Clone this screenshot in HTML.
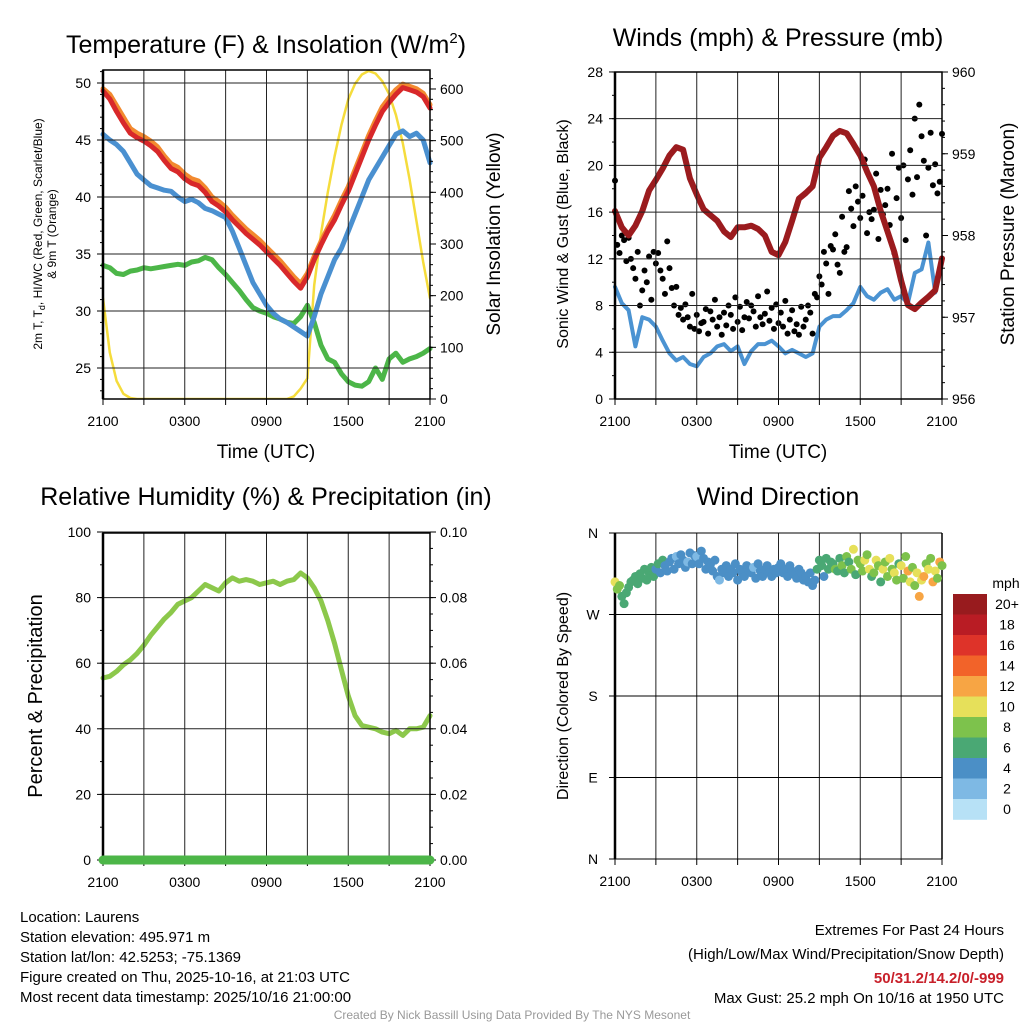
<!DOCTYPE html>
<html><head><meta charset="utf-8"><style>
body{margin:0;background:#fff}
svg{display:block;font-family:"Liberation Sans",Arial,sans-serif}
</style></head><body>
<svg id="chart" xmlns="http://www.w3.org/2000/svg" width="1024" height="1024" viewBox="0 0 1024 1024">
<rect x="0" y="0" width="1024" height="1024" fill="#fff"/>
<text x="266" y="53" font-size="25" text-anchor="middle">Temperature (F) &amp; Insolation (W/m<tspan dy="-10" font-size="15">2</tspan><tspan dy="10">)</tspan></text>
<text x="778" y="46" font-size="25" text-anchor="middle">Winds (mph) &amp; Pressure (mb)</text>
<text x="266" y="505" font-size="25" text-anchor="middle">Relative Humidity (%) &amp; Precipitation (in)</text>
<text x="778" y="505" font-size="25" text-anchor="middle">Wind Direction</text>

<text transform="translate(42,234) rotate(-90)" font-size="12" text-anchor="middle">2m T, T<tspan dy="3" font-size="9">d</tspan><tspan dy="-3">, HI/WC (Red, Green, Scarlet/Blue)</tspan></text>
<text transform="translate(56,234) rotate(-90)" font-size="12" text-anchor="middle">&amp; 9m T (Orange)</text>
<text transform="translate(500,234) rotate(-90)" font-size="19" text-anchor="middle">Solar Insolation (Yellow)</text>
<text x="266" y="458" font-size="19" text-anchor="middle">Time (UTC)</text>
<text transform="translate(568,234) rotate(-90)" font-size="16" text-anchor="middle">Sonic Wind &amp; Gust (Blue, Black)</text>
<text transform="translate(1014,234) rotate(-90)" font-size="19" text-anchor="middle">Station Pressure (Maroon)</text>
<text x="778" y="458" font-size="19" text-anchor="middle">Time (UTC)</text>
<text transform="translate(42,696) rotate(-90)" font-size="20" text-anchor="middle">Percent &amp; Precipitation</text>
<text transform="translate(568,696) rotate(-90)" font-size="16" text-anchor="middle">Direction (Colored By Speed)</text>

<g font-size="15">
<text x="20" y="922">Location: Laurens</text>
<text x="20" y="942">Station elevation: 495.971 m</text>
<text x="20" y="962">Station lat/lon: 42.5253; -75.1369</text>
<text x="20" y="982">Figure created on Thu, 2025-10-16, at 21:03 UTC</text>
<text x="20" y="1002">Most recent data timestamp: 2025/10/16 21:00:00</text>
</g>
<g font-size="15" text-anchor="end">
<text x="1004" y="935">Extremes For Past 24 Hours</text>
<text x="1004" y="959">(High/Low/Max Wind/Precipitation/Snow Depth)</text>
<text x="1004" y="983" fill="#c8202a" font-weight="bold">50/31.2/14.2/0/-999</text>
<text x="1004" y="1003">Max Gust: 25.2 mph On 10/16 at 1950 UTC</text>
</g>
<text x="512" y="1019" font-size="12" fill="#999" text-anchor="middle">Created By Nick Bassill Using Data Provided By The NYS Mesonet</text>
<g id="layer"></g>
</svg>
<script>
const tempRed=[49.3,48.6,47.5,46.5,45.6,45.2,44.9,44.5,44.0,43.2,42.5,42.2,41.6,41.2,41.0,40.4,39.6,39.2,38.7,38.0,37.4,36.8,36.3,35.8,35.2,34.6,34.0,33.3,32.6,32.0,33.0,34.5,35.8,37.0,38.0,39.3,40.5,42.0,43.5,45.0,46.3,47.5,48.3,49.0,49.6,49.4,49.2,48.8,47.8];
const tempOrange=[49.5,49.0,48.0,47.0,46.0,45.6,45.3,44.9,44.4,43.6,42.9,42.6,42.0,41.6,41.4,40.8,40.0,39.6,39.1,38.4,37.8,37.2,36.7,36.2,35.6,35.0,34.4,33.7,33.0,32.4,33.3,34.8,36.1,37.3,38.4,39.7,40.9,42.4,43.9,45.4,46.7,47.9,48.7,49.4,49.9,49.7,49.5,49.1,48.1];
const tempBlue=[45.5,45.0,44.6,44.0,43.0,42.0,41.5,41.0,40.8,40.6,40.5,40.0,39.6,39.8,39.5,39.0,38.8,38.5,38.2,37.0,35.5,34.0,32.5,31.5,30.5,29.8,29.3,29.0,28.6,28.2,27.8,29.5,31.5,33.0,34.5,35.5,37.0,38.5,40.0,41.5,42.5,43.5,44.5,45.5,45.8,45.3,45.6,45.0,43.0];
const tempGreen=[34.0,33.8,33.3,33.2,33.5,33.6,33.8,33.7,33.8,33.9,34.0,34.1,34.0,34.3,34.4,34.7,34.5,33.8,33.2,32.5,31.8,31.0,30.3,30.0,29.8,29.5,29.3,29.0,28.9,29.5,30.5,29.0,27.0,25.8,25.5,24.5,23.8,23.5,23.4,23.8,25.0,24.0,25.8,26.3,25.5,25.8,26.0,26.3,26.7];
const insolation=[195,90,35,10,2,0,0,0,0,0,0,0,0,0,0,0,0,0,0,0,0,0,0,0,0,0,0,0,5,20,40,220,320,400,470,530,580,610,628,635,630,615,590,550,495,425,345,265,195];
const pressure=[958.30,958.10,958.0,958.12,958.3,958.55,958.68,958.82,958.98,959.08,959.05,958.7,958.5,958.32,958.25,958.18,958.05,957.98,958.1,958.1,958.12,958.08,958.0,957.8,957.76,957.92,958.18,958.45,958.52,958.6,958.95,959.08,959.22,959.28,959.25,959.12,958.98,958.78,958.6,958.3,958.05,957.8,957.45,957.15,957.1,957.18,957.25,957.33,957.72];
const sonicWind=[9.6,8.2,7.6,4.5,7.0,6.8,6.2,5.0,3.9,3.3,3.6,3.0,2.8,3.6,3.9,4.5,4.7,4.1,4.5,3.0,4.1,4.7,4.7,5.0,4.5,3.9,4.2,3.9,3.6,3.9,6.2,6.8,7.1,7.1,7.6,8.2,9.6,8.8,8.5,9.1,9.4,8.5,8.8,8.2,10.8,11.1,13.4,9.1,11.9];
const gusts=[18.7,13.2,12.5,14.0,13.6,11.8, 13.8,12.0,11.2,10.3,12.6,8.0, 9.3,11.0,10.0,12.2,8.5,12.6, 11.6,12.5,11.0,10.3,9.0,13.5, 11.2,9.5,8.0,9.6,7.2,7.8, 6.8,8.1,7.0,6.2,9.0,6.0, 7.2,5.8,6.5,6.6,7.7,5.6, 7.5,6.8,8.5,6.2,7.0,5.5, 7.4,6.3,8.0,7.2,6.0,8.7, 6.6,7.9,5.9,7.0,8.3,6.9, 8.0,7.5,6.2,8.8,7.0,6.4, 7.3,9.2,6.7,7.8,6.0,8.1, 6.5,7.4,6.2,8.4,5.6,6.8, 7.6,5.8,6.4,5.5,7.9,6.2, 6.8,8.0,7.4,5.6,9.0,8.7, 10.5,9.8,12.6,11.6,9.0,13.1, 12.8,14.1,11.5,10.8,15.6,12.6, 13.0,17.8,16.3,14.8,18.2,16.9, 15.5,17.4,20.5,14.2,16.0,15.4, 16.2,19.3,13.7,17.9,15.8,16.6, 18.0,14.9,21.0,12.5,17.2,19.8, 15.5,20.0,13.6,18.8,21.3,17.5, 24.0,19.0,25.2,22.5,20.4,14.0, 19.8,22.8,18.3,20.1,17.6,18.6, 22.7];
const relHumidity=[55.5,56,57.5,59.5,61,63,65.5,68.5,71,73.5,75.5,78,79,80,82,84,83,82,84.5,86,85,85.5,85,84,84.5,85,84,85,85.5,87.5,86,83,79,73,66,58,50,44,41,40.5,40,39,38.5,39.5,38,40,40,40.5,44];
const precip=[0,0,0,0,0,0,0,0,0,0,0,0,0,0,0,0,0,0,0,0,0,0,0,0,0,0,0,0,0,0,0,0,0,0,0,0,0,0,0,0,0,0,0,0,0,0,0,0,0];
const windDir=[306,298,302,290,282,294, 300,306,308,312,304,315, 310,320,308,316,322,312, 320,326,316,330,324,318, 328,332,320,334,326,336, 330,322,328,338,326,335, 334,326,340,332,320,328, 325,318,330,312,308,320, 316,324,312,320,316,326, 308,320,316,312,324,318, 316,322,310,326,318,312, 320,324,316,312,320,316, 322,326,316,320,312,324, 318,314,310,320,316,308, 312,306,316,302,308,320, 330,324,312,332,320,328, 326,320,318,332,324,316, 334,328,320,342,314,330, 326,318,330,336,320,312, 316,330,324,306,320,328, 312,332,320,316,308,326, 324,310,334,318,306,322, 302,316,290,308,312,326, 320,332,306,318,310,328, 324];
const windSpd=[10,9,8,7,7,6, 7,6,7,6,7,6, 7,6,7,6,7,6, 5,6,5,6,5,4, 5,4,5,3,5,4, 4,5,3,4,5,4, 3,4,5,4,4,5, 4,5,4,4,3,4, 4,5,4,4,4,5, 4,4,5,4,4,4, 4,3,4,5,4,4, 4,4,5,4,4,4, 4,5,4,4,4,4, 4,4,5,4,4,4, 4,4,5,4,5,6, 7,6,5,7,6,7, 7,8,7,6,8,7, 8,7,8,10,7,8, 9,8,10,8,11,7, 8,10,9,7,10,8, 9,11,8,10,9,7, 10,8,9,12,10,9, 8,11,13,10,12,8, 11,9,12,10,8,13, 9];
const speedBins=[0,2,4,6,8,10,12,14,16,18,20];
const speedColors=["#b7e1f6","#7eb9e4","#4b8fc6","#4aa874","#7dc24c","#e6e05a","#f7a544","#f26329","#de3329","#b91c24","#981b1e"];
const speedLabels=["0","2","4","6","8","10","12","14","16","18","20+"];
const timeLabels=["2100","0300","0900","1500","2100"];
const tempTicks=[25,30,35,40,45,50];
const insolTicks=[0,100,200,300,400,500,600];
const windTicks=[0,4,8,12,16,20,24,28];
const pressTicks=[956,957,958,959,960];
const rhTicks=[0,20,40,60,80,100];
const precipTicks=["0.00","0.02","0.04","0.06","0.08","0.10"];
const dirLabels=["N","E","S","W","N"];

const NS="http://www.w3.org/2000/svg";
const layer=document.getElementById('layer');
function add(parent,tag,attrs){const el=document.createElementNS(NS,tag);for(const k in attrs)el.setAttribute(k,attrs[k]);parent.appendChild(el);return el;}

const P1={L:103,R:430,T:70,B:399};
const P2={L:615,R:942,T:72,B:399};
const P3={L:103,R:430,T:533,B:860};
const P4={L:615,R:942,T:533,B:859};
const xs=(p)=>(h)=>p.L+h*(p.R-p.L)/24;
const x1=xs(P1),x2=xs(P2),x3=xs(P3),x4=xs(P4);
const yT=v=>368-(v-25)*11.4;
const yS=w=>399-w*0.5167;
const yW=v=>399-v*11.68;
const yP=p=>399-(p-956)*81.75;
const yRH=v=>860-v*3.28;
const yPr=p=>860-p*3280;
const yD=d=>859-d*326/360;

function frame(p,name){
  const g=add(layer,'g',{});
  
  
  for(let h=3;h<24;h+=3){
    const l=add(g,'line',{x1:xs(p)(h),x2:xs(p)(h),y1:p.T,y2:p.B,stroke:'#222','stroke-width':1});
    
    
  }
  for(let h=0;h<=24;h+=3){
    const t=add(g,'line',{x1:xs(p)(h),x2:xs(p)(h),y1:p.B,y2:p.B+6,stroke:'#000','stroke-width':1});
    
    
  }
  for(let i=0;i<timeLabels.length;i++){
    const t=add(g,'text',{x:xs(p)(i*6),y:p.B+27,'font-size':14,'text-anchor':'middle'});
    t.textContent=timeLabels[i];
    
    
  }
  return g;
}
function yAxis(g,p,vals,fy,side,labels,minorStep,lo,hi,grid){
  const x=side==='L'?p.L:p.R, d=side==='L'?-6:6;
  for(let v=lo;v<=hi+1e-9;v+=minorStep){
    const m=add(g,'line',{x1:x,x2:x+d/2,y1:fy(v),y2:fy(v),stroke:'#000','stroke-width':1});
    
    
  }
  vals.forEach((v,i)=>{
    const y=fy(v);
    if(grid){
      const gl=add(g,'line',{x1:p.L,x2:p.R,y1:y,y2:y,stroke:'#222','stroke-width':1});
      
      
    }
    const t=add(g,'line',{x1:x,x2:x+d,y1:y,y2:y,stroke:'#000','stroke-width':1});
    
    
    const tx=add(g,'text',{x:side==='L'?x-12:x+10,y:y+5,'font-size':14,'text-anchor':side==='L'?'end':'start'});
    tx.textContent=labels?labels[i]:String(v);
    
    
  });
}
function box(g,p){
  const r=add(g,'rect',{x:p.L,y:p.T,width:p.R-p.L,height:p.B-p.T,fill:'none',stroke:'#000','stroke-width':1.5});
  
  
  const lft=add(g,'line',{x1:p.L,x2:p.L,y1:p.T,y2:p.B,stroke:'#000','stroke-width':2.5});
  
  
}
function line(arr,fx,fy,step,color,w,name){
  let d='';
  arr.forEach((v,i)=>{d+=(i?'L':'M')+fx(i*step).toFixed(1)+','+fy(v).toFixed(1);});
  const p=add(layer,'path',{d:d,fill:'none',stroke:color,'stroke-width':w,'stroke-linejoin':'round','stroke-linecap':'round'});
  
  
  return p;
}
function clip(id,p){
  const c=add(layer,'clipPath',{id:id});
  add(c,'rect',{x:p.L,y:p.T,width:p.R-p.L,height:p.B-p.T});
}

// Panel 1
let g=frame(P1,'temperature');
yAxis(g,P1,tempTicks,yT,'L',null,1,23,51,true);
yAxis(g,P1,insolTicks,yS,'R',null,20,0,620,false);
clip('c1',P1);
let s;
s=line(insolation,x1,yS,0.5,'#f5dc3c',2.5,'insolation-line');s.setAttribute('clip-path','url(#c1)');
line(tempGreen,x1,yT,0.5,'#4cb648',5,'dewpoint-line');
line(tempBlue,x1,yT,0.5,'#4a90d0',5,'heat-index-windchill-line');
line(tempOrange,x1,yT,0.5,'#f28a2f',5,'temperature-9m-line');
line(tempRed,x1,yT,0.5,'#d8282a',5,'temperature-2m-line');
box(g,P1);layer.appendChild(g);

// Panel 2
g=frame(P2,'wind');
yAxis(g,P2,windTicks,yW,'L',null,2,0,28,true);
yAxis(g,P2,pressTicks,yP,'R',null,0.2,956,960,false);
line(sonicWind,x2,yW,0.5,'#4b93d2',4,'sonic-wind-line');
gusts.forEach((v,i)=>{
  const c=add(layer,'circle',{cx:x2(i/6),cy:yW(v),r:3,fill:'#000'});
  
  
});
line(pressure,x2,yP,0.5,'#9b1b1e',6,'pressure-line');
box(g,P2);layer.appendChild(g);

// Panel 3
g=frame(P3,'humidity');
yAxis(g,P3,rhTicks,yRH,'L',null,10,0,100,true);
yAxis(g,P3,precipTicks.map(Number),yPr,'R',precipTicks,0.005,0,0.1,false);
line(relHumidity,x3,yRH,0.5,'#8cc84b',5,'relative-humidity-line');
box(g,P3);layer.appendChild(g);
line(precip,x3,yPr,0.5,'#4cb648',9,'precipitation-line');

// Panel 4
g=frame(P4,'direction');
[0,90,180,270,360].forEach((d,i)=>{
  const y=yD(d);
  const gl=add(g,'line',{x1:P4.L-6,x2:P4.R,y1:y,y2:y,stroke:'#000','stroke-width':1});
  
  
  const t=add(g,'text',{x:P4.L-22,y:y+5,'font-size':14,'text-anchor':'middle'});
  t.textContent=dirLabels[i];
  
  
});
const lf=add(g,'line',{x1:P4.L,x2:P4.L,y1:P4.T,y2:P4.B,stroke:'#000','stroke-width':2.5});


const rt=add(g,'line',{x1:P4.R,x2:P4.R,y1:P4.T,y2:P4.B,stroke:'#000','stroke-width':1.5});


function colorFor(v){let k=0;for(let j=0;j<speedBins.length;j++)if(v>=speedBins[j])k=j;return speedColors[k];}
windDir.forEach((d,i)=>{
  const c=add(layer,'circle',{cx:x4(i/6),cy:yD(d),r:4.5,fill:colorFor(windSpd[i])});
  
  
});
// legend
const lg=add(layer,'g',{});


const lt=add(lg,'text',{x:1006,y:588,'font-size':14,'text-anchor':'middle'});
lt.textContent='mph';


for(let i=0;i<speedColors.length;i++){
  const k=speedColors.length-1-i;
  const y=594+i*20.5;
  const r=add(lg,'rect',{x:953,y:y,width:34,height:20.8,fill:speedColors[k]});
  
  
  const t=add(lg,'text',{x:1007,y:y+15,'font-size':14,'text-anchor':'middle'});
  t.textContent=speedLabels[k];
  
  
}
</script>
</body></html>
